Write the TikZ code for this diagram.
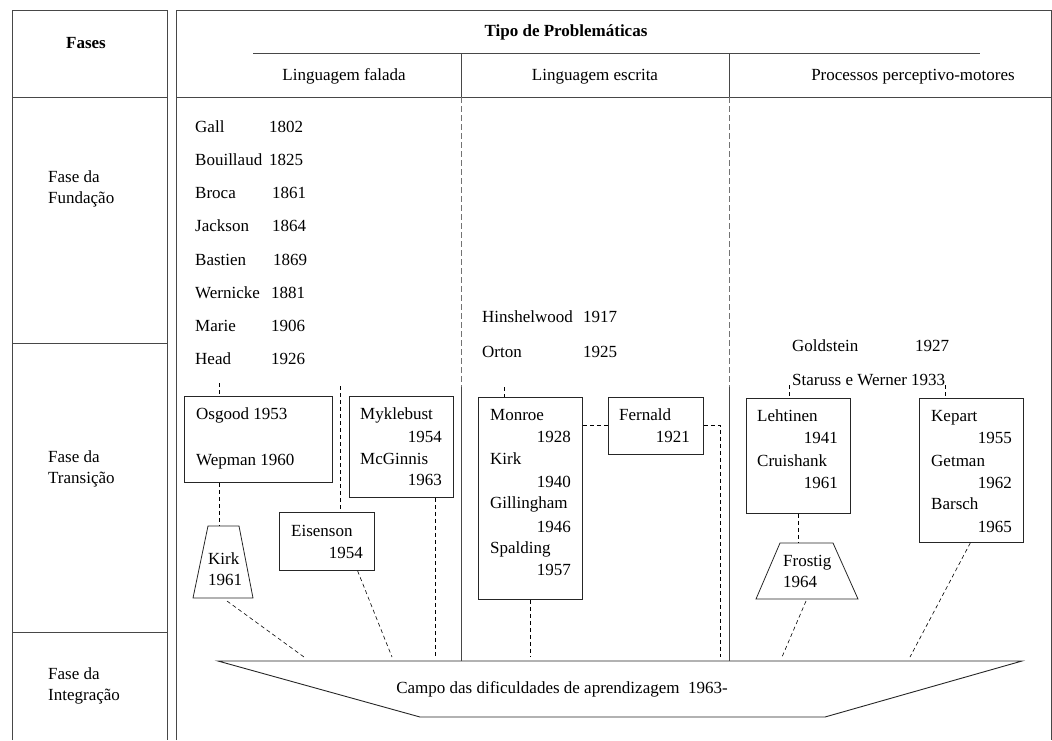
\documentclass[tikz,border=0pt]{standalone}
\usepackage{fontspec}
\setmainfont{Liberation Serif}
\usetikzlibrary{calc}
\newcommand{\dgfont}{\fontsize{17pt}{21pt}\selectfont}

\begin{document}
\begin{tikzpicture}[x=1pt,y=-1pt,font=\dgfont,
  frame/.style={draw=black!72,line width=0.9pt},
  colsep/.style={draw=black!55,dash pattern=on 6pt off 3pt,line width=0.9pt},
  conn/.style={draw=black,dash pattern=on 4pt off 3pt,line width=0.6pt},
  box/.style={draw=black!85,line width=0.8pt,anchor=north west,inner sep=0pt},
  outline/.style={draw=black!85,line width=0.9pt},
  txt/.style={anchor=west,inner sep=0pt,text height=14pt,text depth=3pt},
  yr/.style={anchor=east,inner sep=0pt,text height=14pt,text depth=3pt},
  ctr/.style={anchor=center,inner sep=0pt,text height=14pt,text depth=3pt},
  phase/.style={anchor=west,inner sep=0pt,align=left}]

\useasboundingbox (0,0) rectangle (1052,740);

% ---------- table frames ----------
\draw[frame] (12,740) -- (12,10) -- (167,10) -- (167,740);
\draw[frame] (12,97) -- (167,97);
\draw[frame] (12,343) -- (167,343);
\draw[frame] (12,632) -- (167,632);

\draw[frame] (176,740) -- (176,10) -- (1051,10) -- (1051,740);
\draw[frame] (176,97) -- (1051,97);
\draw[frame] (253,53) -- (980,53);
\draw[frame] (461,53) -- (461,97);
\draw[frame] (729,53) -- (729,97);

% ---------- integration field ----------
\coordinate (ctl) at (218,661);
\coordinate (ctr) at (1022,661);
\coordinate (cbr) at (825,717);
\coordinate (cbl) at (420,717);
\draw[outline] (ctl) -- (ctr) -- (cbr) -- (cbl) -- cycle;
\node[ctr] (campo) at (562,688) {Campo das dificuldades de aprendizagem\ \ 1963-};

% column dividers
\coordinate (d1) at (461,387);
\coordinate (d2) at (729,387);
\draw[colsep] (461,97) -- (d1);
\draw[colsep] (729,97) -- (d2);
\draw[frame] (d1) -- (d1 |- ctl);
\draw[frame] (d2) -- (d2 |- ctl);

% ---------- headers ----------
\node[ctr,font=\dgfont\bfseries] (fases) at (86,43) {Fases};
\node[ctr,font=\dgfont\bfseries] (tipo) at (566,31) {Tipo de Problemáticas};
\node[ctr] (falada) at (344,75) {Linguagem falada};
\node[ctr] (escrita) at (595,75) {Linguagem escrita};
\node[ctr] (motores) at (913,75) {Processos perceptivo-motores};

\node[phase] (fund) at (48,189) {Fase da\\Fundação};
\node[phase] (trans) at (48,469) {Fase da\\Transição};
\node[phase] (integ) at (48,686) {Fase da\\Integração};

% ---------- foundation names ----------
\node[txt] (n1) at (195,127) {Gall};      \node[txt] (y1) at (269,127) {1802};
\node[txt] (n2) at (195,160) {Bouillaud}; \node[txt] (y2) at (269,160) {1825};
\node[txt] (n3) at (195,193) {Broca};     \node[txt] (y3) at (272,193) {1861};
\node[txt] (n4) at (195,226) {Jackson};   \node[txt] (y4) at (272,226) {1864};
\node[txt] (n5) at (195,260) {Bastien};   \node[txt] (y5) at (273,260) {1869};
\node[txt] (n6) at (195,293) {Wernicke};  \node[txt] (y6) at (271,293) {1881};
\node[txt] (n7) at (195,326) {Marie};     \node[txt] (y7) at (271,326) {1906};
\node[txt] (n8) at (195,359) {Head};      \node[txt] (y8) at (271,359) {1926};

\node[txt] (hin) at (482,317) {Hinshelwood}; \node[txt] (hiny) at (583,317) {1917};
\node[txt] (ort) at (482,352) {Orton};       \node[txt] (orty) at (583,352) {1925};

\node[txt] (gold) at (792,346) {Goldstein}; \node[txt] (goldy) at (915,346) {1927};
\node[txt] (star) at (792,380) {Staruss e Werner 1933};

% ---------- spoken language boxes ----------
\node[box,minimum width=148pt,minimum height=86pt] (osgood) at (184,396) {};
\node[txt] at (196,414) {Osgood 1953};
\node[txt] at (196,460) {Wepman 1960};

\node[box,minimum width=104pt,minimum height=101pt] (myk) at (349,396) {};
\node[txt] at (360,414) {Myklebust};
\node[yr]  at (442,437) {1954};
\node[txt] at (360,459) {McGinnis};
\node[yr]  at (442,480) {1963};

\node[box,minimum width=95pt,minimum height=58pt] (eisen) at (279,512) {};
\node[txt] at (291,531) {Eisenson};
\node[yr]  at (363,553) {1954};

\coordinate (ktl) at (208,526);
\coordinate (ktr) at (239,526);
\coordinate (kbr) at (253,598);
\coordinate (kbl) at (193,598);
\draw[outline,line width=0.8pt] (ktl) -- (ktr) -- (kbr) -- (kbl) -- cycle;
\node[txt] (kirk) at (208,559) {Kirk};
\node[txt] (kirky) at (208,580) {1961};

% ---------- written language boxes ----------
\node[box,minimum width=104pt,minimum height=202pt] (monroe) at (478,397) {};
\node[txt] at (490,415) {Monroe};
\node[yr]  at (571,437) {1928};
\node[txt] at (490,459) {Kirk};
\node[yr]  at (571,482) {1940};
\node[txt] at (490,503) {Gillingham};
\node[yr]  at (571,527) {1946};
\node[txt] at (490,548) {Spalding};
\node[yr]  at (571,570) {1957};

\node[box,minimum width=95pt,minimum height=57pt] (fernald) at (608,397) {};
\node[txt] at (619,415) {Fernald};
\node[yr]  at (690,437) {1921};

% ---------- perceptual-motor boxes ----------
\node[box,minimum width=104pt,minimum height=115pt] (leht) at (746,398) {};
\node[txt] at (757,416) {Lehtinen};
\node[yr]  at (838,438) {1941};
\node[txt] at (757,461) {Cruishank};
\node[yr]  at (838,483) {1961};

\coordinate (ftl) at (780,543);
\coordinate (ftr) at (833,543);
\coordinate (fbr) at (858,599);
\coordinate (fbl) at (756,599);
\draw[outline,line width=0.8pt] (ftl) -- (ftr) -- (fbr) -- (fbl) -- cycle;
\node[txt] (frostig) at (783,561) {Frostig};
\node[txt] (frostigy) at (783,582) {1964};

\node[box,minimum width=104pt,minimum height=144pt] (kepart) at (919,398) {};
\node[txt] at (931,416) {Kepart};
\node[yr]  at (1012,438) {1955};
\node[txt] at (931,461) {Getman};
\node[yr]  at (1012,483) {1962};
\node[txt] at (931,504) {Barsch};
\node[yr]  at (1012,527) {1965};

% ---------- dashed connectors ----------
\coordinate (up1) at (219,383);
\coordinate (up2) at (340,386);
\coordinate (up3) at (504,387);
\coordinate (up4) at (789,385);
\coordinate (up5) at (945,385);
\coordinate (kin) at (219,526);
\coordinate (kout) at (227,601);
\coordinate (fin) at (798,543);
\coordinate (fout) at (806,601);
\coordinate (cp1) at (304,657);
\coordinate (cp2) at (392,657);
\coordinate (cp3) at (435,657);
\coordinate (cp4) at (530,657);
\coordinate (cp5) at (720,657);
\coordinate (cp6) at (782,657);
\coordinate (cp7) at (910,657);

\draw[conn] (up1) -- (up1 |- osgood.north);
\draw[conn] (up2) -- (up2 |- eisen.north);
\draw[conn] (up3) -- (up3 |- monroe.north);
\draw[conn] (up4) -- (up4 |- leht.north);
\draw[conn] (up5) -- (up5 |- kepart.north);

\draw[conn] (kin |- osgood.south) -- (kin);
\draw[conn] (kout) -- (cp1);
\draw[conn] ($(eisen.south west)!0.82!(eisen.south east)$) -- (cp2);
\draw[conn] (cp3 |- myk.south) -- (cp3);
\draw[conn] (cp4 |- monroe.south) -- (cp4);
\draw[conn] ($(monroe.north east)+(0,28)$) coordinate (mf) -- (mf -| fernald.west);
\draw[conn] ($(fernald.north east)+(0,28)$) -| (cp5);
\draw[conn] (fin |- leht.south) -- (fin);
\draw[conn] (fout) -- (cp6);
\draw[conn] ($(kepart.south west)!0.49!(kepart.south east)$) -- (cp7);

\end{tikzpicture}
\end{document}
